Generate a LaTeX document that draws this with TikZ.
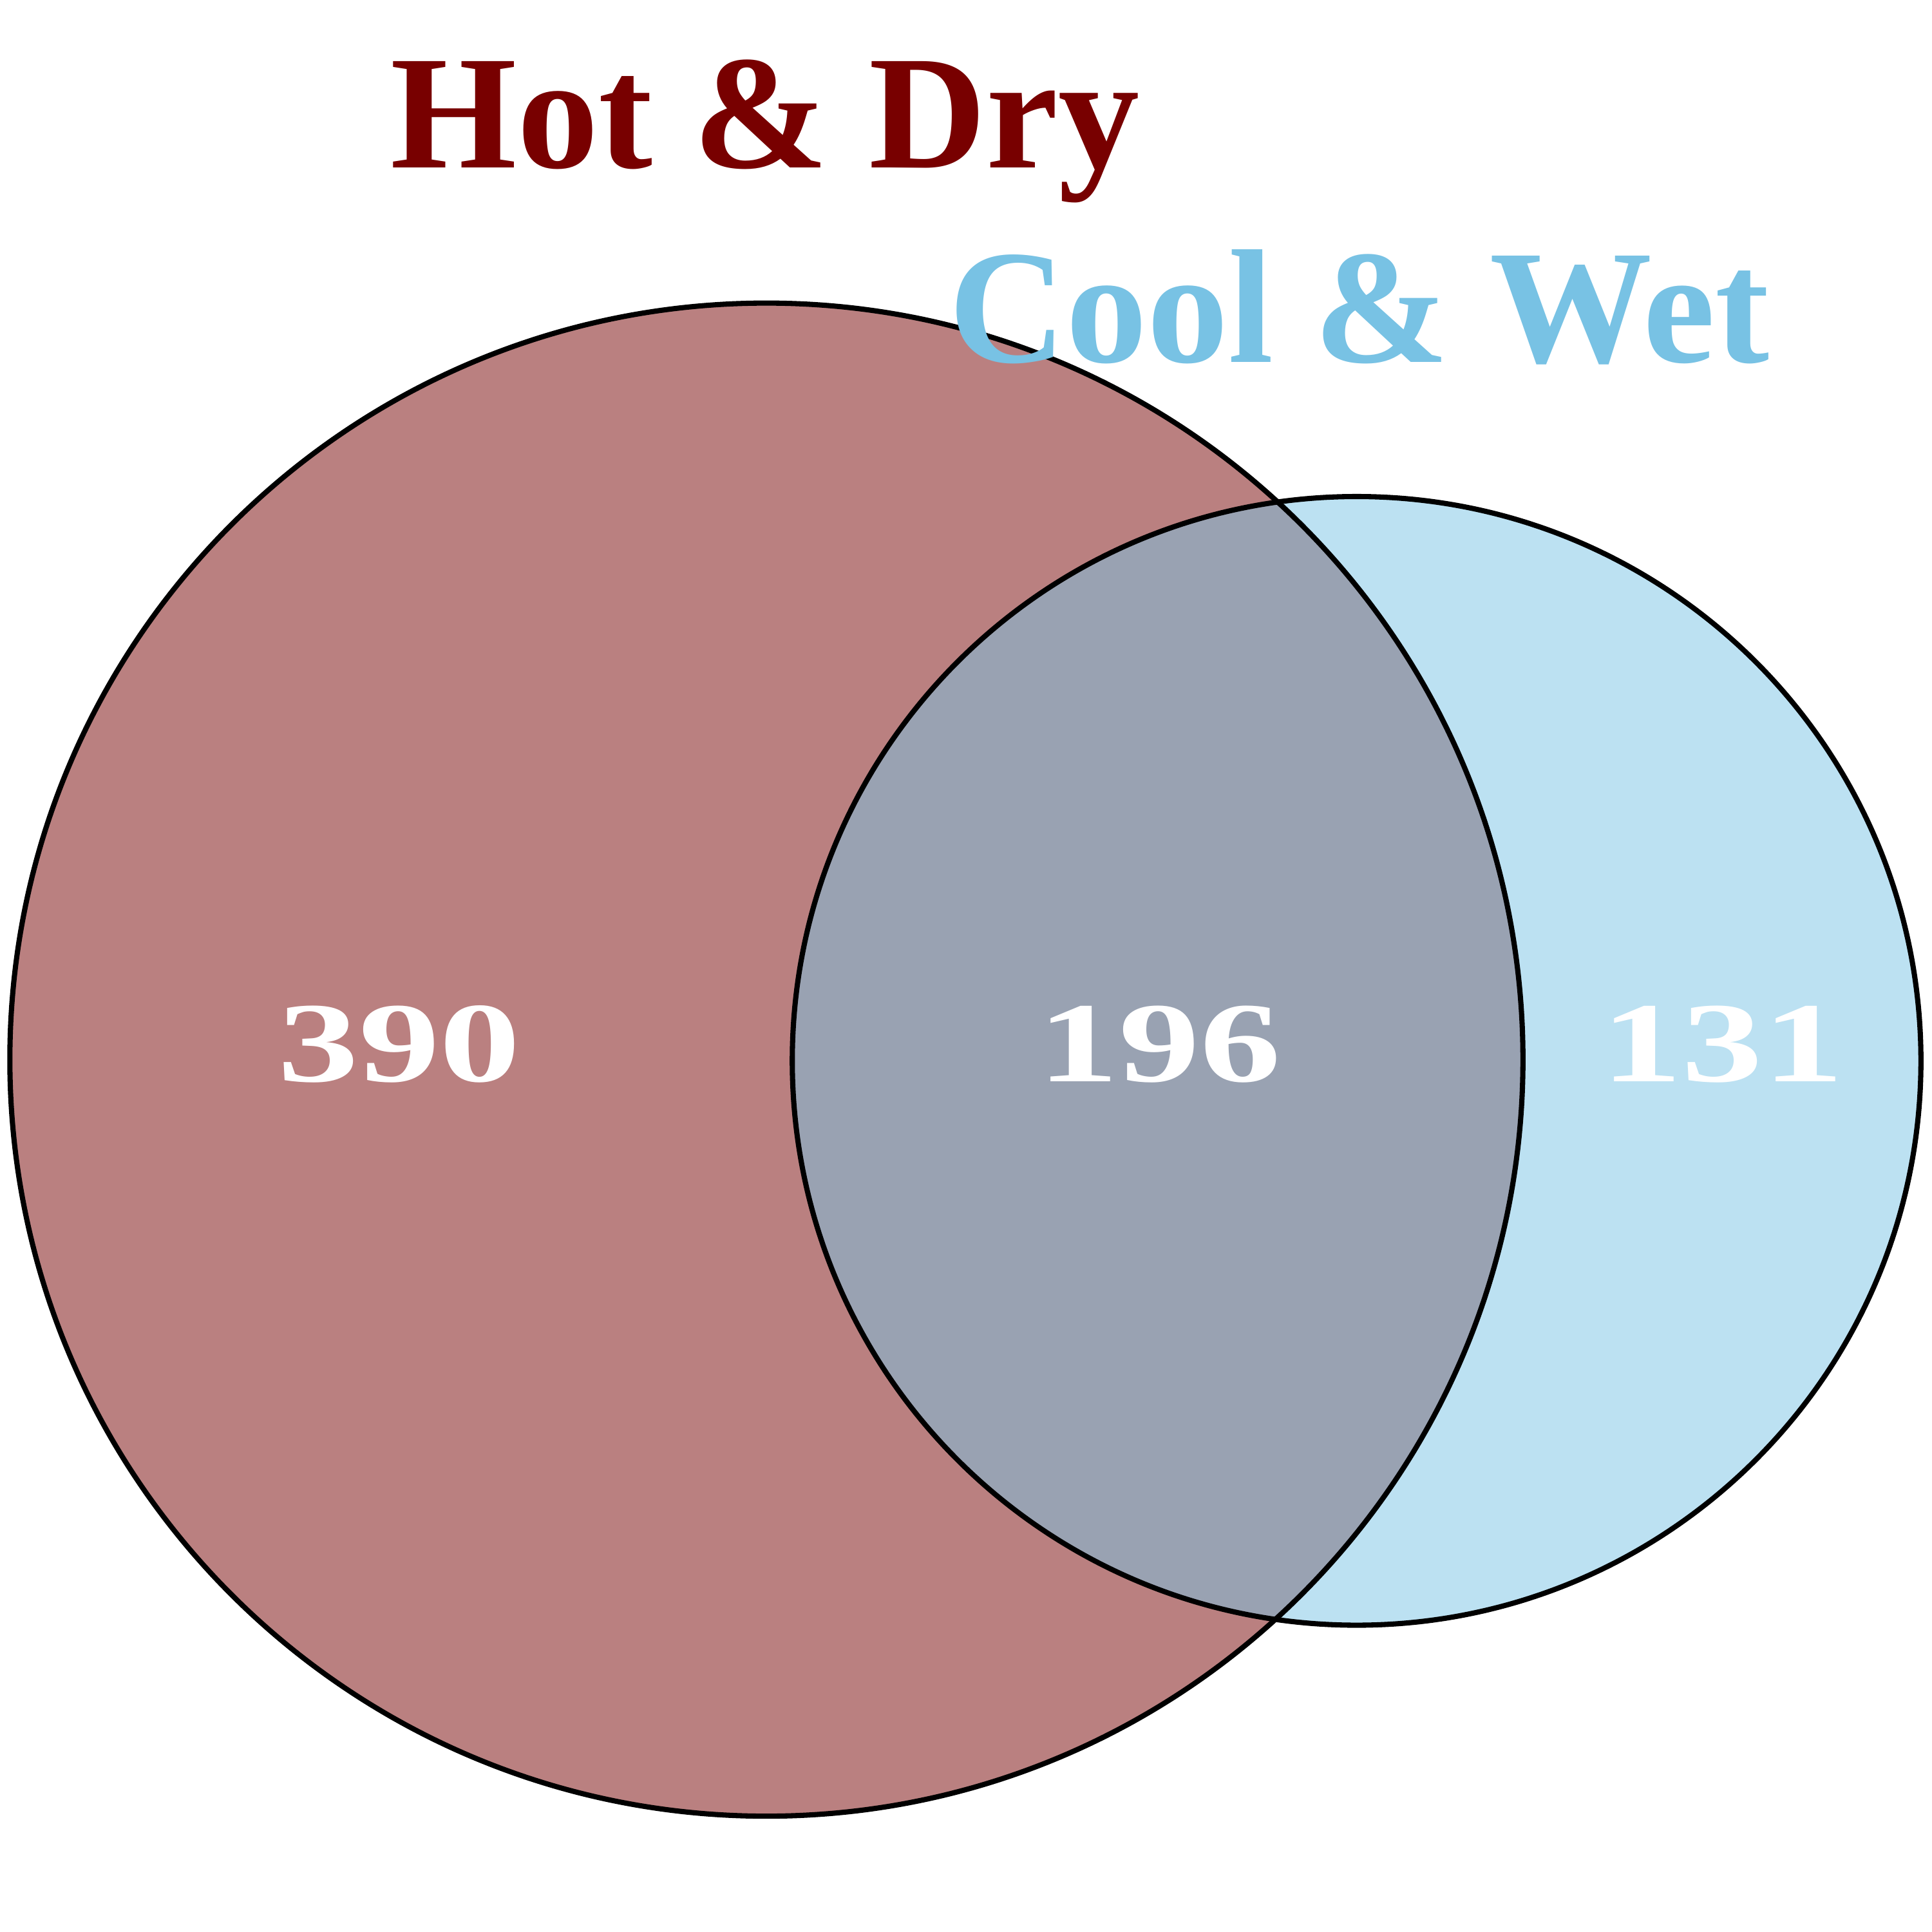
\documentclass[tikz,border=0pt]{standalone}
\usepackage{fontspec}
\setmainfont{LiberationSerif}[Extension=.ttf, UprightFont=*-Regular, BoldFont=*-Bold]
\definecolor{hotfill}{HTML}{BA8080}
\definecolor{coolfill}{HTML}{BCE1F2}
\definecolor{bothfill}{HTML}{99A2B2}
\definecolor{hottext}{HTML}{780000}
\definecolor{cooltext}{HTML}{78C2E4}
\tikzset{
  ring/.style={draw=black, line width=1.2pt},
  title/.style={font=\bfseries\fontsize{37.5}{40}\selectfont, anchor=base, inner sep=0pt},
  count/.style={font=\bfseries\fontsize{37.4}{40}\selectfont, text=white, anchor=base, inner sep=0pt, yscale=0.706, transform shape}
}
\begin{document}
\begin{tikzpicture}
\useasboundingbox (0,0) rectangle (15.68,15.68);
\coordinate (hc) at (6.22,7.08);
\coordinate (cc) at (11.01,7.07);
\fill[hotfill] (hc) circle (6.14);
\fill[coolfill] (cc) circle (4.58);
\begin{scope}
  \clip (hc) circle (6.14);
  \fill[bothfill] (cc) circle (4.58);
\end{scope}
\draw[ring] (hc) circle (6.14);
\draw[ring] (cc) circle (4.58);
\node[title, text=hottext] (hot) at (6.21,14.32) {Hot \& Dry};
\node[title, text=cooltext] (cool) at (11.03,12.74) {Cool \& Wet};
\node[count] (n390) at (3.24,6.90) {390};
\node[count] (n196) at (9.41,6.90) {196};
\node[count] (n131) at (13.98,6.90) {131};
\end{tikzpicture}
\end{document}
